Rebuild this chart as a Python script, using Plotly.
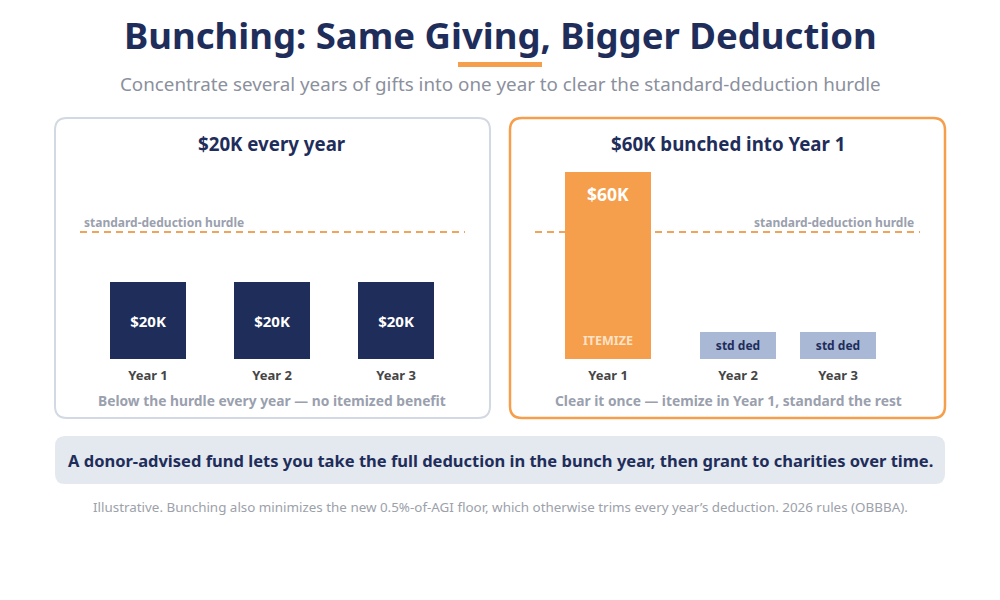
import plotly.graph_objects as go

# data
years = ["Year 1", "Year 2", "Year 3"]
every_year = [20, 20, 20]            # $K given each year
every_year_text = ["$20K", "$20K", "$20K"]
hurdle = 33                          # standard-deduction hurdle, $K (illustrative)
bunched = [48.6, 7, 7]               # drawn heights in the bunched panel
bunched_text = ["$60K", "std ded", "std ded"]

pos_left = [0, 1, 2]
pos_right = [0, 1.3, 2.3]

NAVY = "#1f2d5b"
ORANGE = "#f59e4c"
PALE = "#a9b8d5"
GREY = "#9aa0ae"
FONT = "Noto Sans"
OFF = 8  # page body margin


def px(x):
    return (x - OFF) / 1000


def py(y):
    return 1 - (y - OFF) / 600


def rounded(x0, y0, x1, y1, r):
    rx, ry = r / 1000, r / 600
    a, b, c, d = px(x0), py(y0), px(x1), py(y1)
    return (f"M {a + rx},{b} L {c - rx},{b} Q {c},{b} {c},{b - ry} "
            f"L {c},{d + ry} Q {c},{d} {c - rx},{d} L {a + rx},{d} "
            f"Q {a},{d} {a},{d + ry} L {a},{b - ry} Q {a},{b} {a + rx},{b} Z")


fig = go.Figure()

fig.add_trace(go.Bar(x=pos_left, y=every_year, width=0.613,
                     marker=dict(color=NAVY, line=dict(width=0)),
                     text=every_year_text, textposition="inside",
                     insidetextanchor="middle",
                     textfont=dict(color="white", size=15, family=FONT, weight="bold"),
                     xaxis="x", yaxis="y", hoverinfo="skip"))

fig.add_trace(go.Bar(x=pos_right, y=bunched, width=[0.86, 0.76, 0.76],
                     marker=dict(color=[ORANGE, PALE, PALE], line=dict(width=0)),
                     text=["", bunched_text[1], bunched_text[2]], textposition="inside",
                     insidetextanchor="middle",
                     textfont=dict(color=NAVY, size=12, family=FONT, weight="bold"),
                     xaxis="x2", yaxis="y2", hoverinfo="skip"))

ax_common = dict(showgrid=False, zeroline=False, showline=False, fixedrange=True)
ydom = [py(359), py(140)]
yrange = [0, 219 / 3.85]
tick_font = dict(size=13, color="#454545", family=FONT, weight="bold")

fig.update_layout(
    width=1000, height=600,
    margin=dict(l=0, r=0, t=0, b=0),
    paper_bgcolor="white", plot_bgcolor="rgba(0,0,0,0)",
    showlegend=False, bargap=0,
    font=dict(family=FONT),
    xaxis=dict(domain=[px(80), px(465)], range=[-0.548, 2.556],
               tickvals=pos_left, ticktext=years, ticks="", ticklabelstandoff=7,
               tickfont=tick_font, **ax_common),
    yaxis=dict(domain=ydom, range=yrange, showticklabels=False, **ax_common),
    xaxis2=dict(domain=[px(535), px(920)], range=[-0.73, 3.12], anchor="y2",
                tickvals=pos_right, ticktext=years, ticks="", ticklabelstandoff=7,
                tickfont=tick_font, **ax_common),
    yaxis2=dict(domain=ydom, range=yrange, anchor="x2", showticklabels=False, **ax_common),
)

# panel frames and callout
fig.add_shape(type="path", path=rounded(55, 118, 490, 418, 12), xref="paper", yref="paper",
              line=dict(color="#d3d9e2", width=2), fillcolor="white", layer="below")
fig.add_shape(type="path", path=rounded(510, 118, 945, 418, 12), xref="paper", yref="paper",
              line=dict(color=ORANGE, width=2.5), fillcolor="white", layer="below")
fig.add_shape(type="path", path=rounded(55, 436, 945, 484, 10), xref="paper", yref="paper",
              line=dict(width=0), fillcolor="#e3e9ee", layer="below")
# title underline
fig.add_shape(type="rect", x0=px(458), x1=px(542), y0=py(67), y1=py(62), xref="paper", yref="paper",
              line=dict(width=0), fillcolor=ORANGE)

# hurdle lines
for xr, yr in [("x domain", "y"), ("x2 domain", "y2")]:
    fig.add_shape(type="line", xref=xr, yref=yr, x0=0, x1=1, y0=hurdle, y1=hurdle,
                  line=dict(color="#f0a35a", width=2, dash="7px,5px"), layer="below")

fig.add_annotation(xref="x domain", yref="y", x=0.005, y=hurdle, yshift=9, xanchor="left",
                   text="standard-deduction hurdle", showarrow=False,
                   font=dict(size=12, color=GREY, weight="bold"))
fig.add_annotation(xref="x2 domain", yref="y2", x=0.99, y=hurdle, yshift=9, xanchor="right",
                   text="standard-deduction hurdle", showarrow=False,
                   font=dict(size=12, color=GREY, weight="bold"))

# labels inside the bunched bar
fig.add_annotation(xref="x2", yref="y2", x=pos_right[0], y=bunched[0], yshift=-22,
                   text=bunched_text[0], showarrow=False,
                   font=dict(size=17.5, color="white", weight="bold"))
fig.add_annotation(xref="x2", yref="y2", x=pos_right[0], y=0, yshift=19,
                   text="ITEMIZE", showarrow=False,
                   font=dict(size=12.5, color="#fde2c6", weight="bold"))

texts = [
    (500, 35, "Bunching: Same Giving, Bigger Deduction", 36.5, NAVY, "bold"),
    (500, 84, "Concentrate several years of gifts into one year to clear the standard-deduction hurdle", 18.8, "#8b909d", "normal"),
    (272, 143, "$20K every year", 18.7, NAVY, "bold"),
    (728, 143, "$60K bunched into Year 1", 18.7, NAVY, "bold"),
    (272, 400, "Below the hurdle every year — no itemized benefit", 13.8, GREY, "bold"),
    (728, 400, "Clear it once — itemize in Year 1, standard the rest", 13.8, GREY, "bold"),
    (500, 460, "A donor-advised fund lets you take the full deduction in the bunch year, then grant to charities over time.", 16.5, NAVY, "bold"),
    (500, 507, "Illustrative. Bunching also minimizes the new 0.5%-of-AGI floor, which otherwise trims every year’s deduction. 2026 rules (OBBBA).", 13.4, "#9ca1aa", "normal"),
]
for x, y, t, s, c, w in texts:
    fig.add_annotation(xref="paper", yref="paper", x=px(x), y=py(y), text=t, showarrow=False,
                       xanchor="center", yanchor="middle",
                       font=dict(size=s, color=c, weight=w, family=FONT))

fig.write_html("out.html")
